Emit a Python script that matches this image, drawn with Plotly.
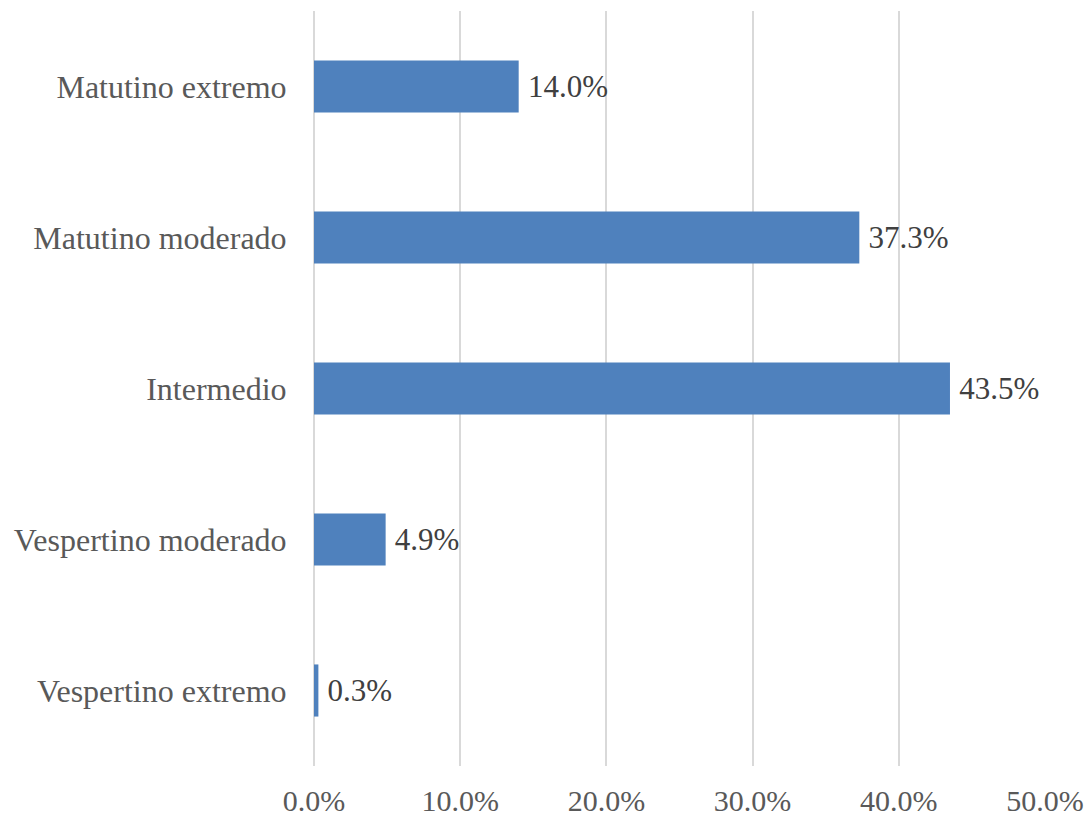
import plotly.graph_objects as go

categories = ["Matutino extremo", "Matutino moderado", "Intermedio", "Vespertino moderado", "Vespertino extremo"]
values = [14.0, 37.3, 43.5, 4.9, 0.3]
tick_vals = [0, 10, 20, 30, 40, 50]
tick_text = ["0.0%", "10.0%", "20.0%", "30.0%", "40.0%", "50.0%"]

fig = go.Figure(go.Bar(
    y=categories,
    x=values,
    orientation="h",
    marker=dict(color="#4F81BD", line=dict(width=0)),
    width=0.345,
    texttemplate="\u2009%{x:.1f}%",
    textposition="outside",
    textfont=dict(family="Liberation Serif", size=31, color="#404040"),
    cliponaxis=False,
))

fig.update_layout(
    width=1090, height=819,
    margin=dict(l=314, r=45, t=11, b=53),
    paper_bgcolor="white", plot_bgcolor="white",
    showlegend=False,
    font=dict(family="Liberation Serif", size=31, color="#595959"),
    xaxis=dict(
        range=[0, 50], tickvals=tick_vals, ticktext=tick_text,
        showgrid=True, gridcolor="#D9D9D9", gridwidth=2,
        zeroline=True, zerolinecolor="#D9D9D9", zerolinewidth=2,
        showline=False, ticks="outside", ticklen=8, tickcolor="rgba(0,0,0,0)",
        tickfont=dict(family="Liberation Serif", size=30, color="#595959"),
        fixedrange=True, automargin=False,
    ),
    yaxis=dict(
        categoryorder="array", categoryarray=categories[::-1],
        showgrid=False, showline=False, zeroline=False,
        ticks="outside", ticklen=20, tickcolor="rgba(0,0,0,0)",
        tickfont=dict(family="Liberation Serif", size=32, color="#595959"),
        automargin=False,
    ),
)

fig.write_html("out.html")
